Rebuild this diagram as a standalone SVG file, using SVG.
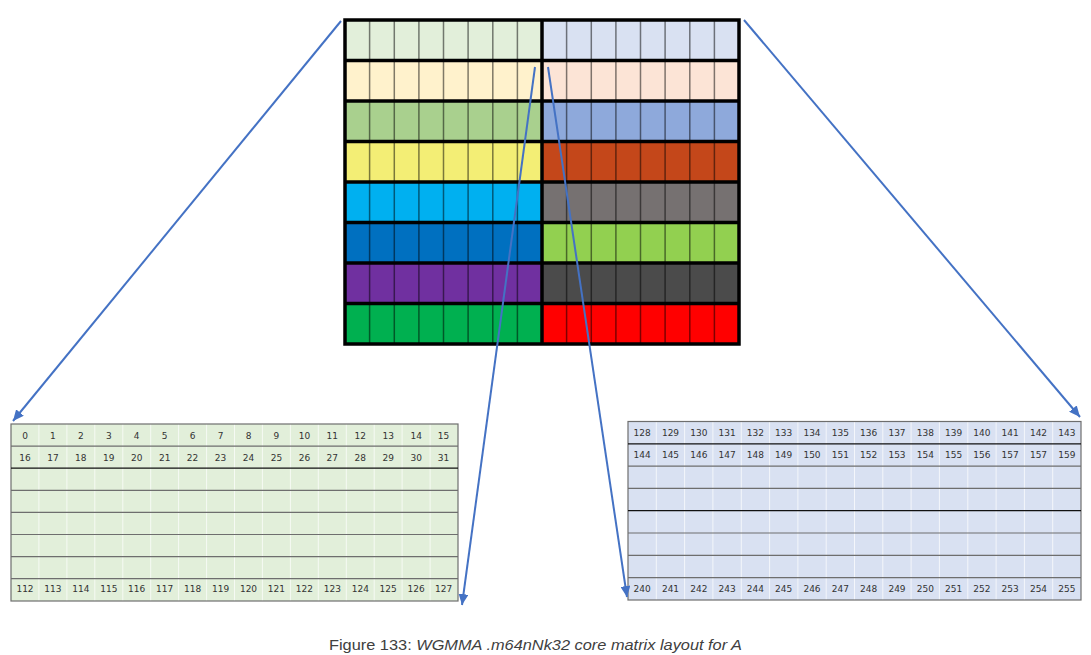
<svg xmlns="http://www.w3.org/2000/svg" width="1091" height="655" viewBox="0 0 1091 655">
<defs>
<style>
.cl{stroke:#000;stroke-opacity:0.5;stroke-width:1.5}
.rl{stroke:#000;stroke-width:3.5}
.tc{stroke:#ffffff;stroke-opacity:0.7;stroke-width:1}
.tg{stroke:#6e6e6e;stroke-width:1.2}
.tb{stroke:#111;stroke-width:1.2}
.n{font-family:"DejaVu Sans",Verdana,sans-serif;font-size:9px;fill:#333;text-anchor:middle}
.cap{font-family:"Liberation Sans",Arial,sans-serif;font-size:15px;fill:#404040}
.ar{stroke:#4472C4;stroke-width:2;fill:none}
</style>
<marker id="ah" markerUnits="userSpaceOnUse" markerWidth="12" markerHeight="10" refX="11" refY="5" orient="auto">
<path d="M0,0 L11,5 L0,10 Z" fill="#4472C4"/>
</marker>
</defs>
<rect width="1091" height="655" fill="#fff"/>

<g id="matrix">
<rect x="345" y="20" width="197" height="40.5" fill="#E2EFDA"/>
<rect x="542" y="20" width="197" height="40.5" fill="#D9E1F2"/>
<rect x="345" y="60.5" width="197" height="40.5" fill="#FFF2CC"/>
<rect x="542" y="60.5" width="197" height="40.5" fill="#FCE4D6"/>
<rect x="345" y="101" width="197" height="40.5" fill="#A9D08E"/>
<rect x="542" y="101" width="197" height="40.5" fill="#8EA9DB"/>
<rect x="345" y="141.5" width="197" height="40.5" fill="#F3EE75"/>
<rect x="542" y="141.5" width="197" height="40.5" fill="#C4471A"/>
<rect x="345" y="182" width="197" height="40.5" fill="#00B0F0"/>
<rect x="542" y="182" width="197" height="40.5" fill="#767171"/>
<rect x="345" y="222.5" width="197" height="40.5" fill="#0070C0"/>
<rect x="542" y="222.5" width="197" height="40.5" fill="#92D050"/>
<rect x="345" y="263" width="197" height="40.5" fill="#7030A0"/>
<rect x="542" y="263" width="197" height="40.5" fill="#4B4B4B"/>
<rect x="345" y="303.5" width="197" height="40.5" fill="#00B050"/>
<rect x="542" y="303.5" width="197" height="40.5" fill="#FF0000"/>
<g class="cl">
<line x1="369.6" y1="20" x2="369.6" y2="344"/>
<line x1="394.3" y1="20" x2="394.3" y2="344"/>
<line x1="418.9" y1="20" x2="418.9" y2="344"/>
<line x1="443.5" y1="20" x2="443.5" y2="344"/>
<line x1="468.1" y1="20" x2="468.1" y2="344"/>
<line x1="492.8" y1="20" x2="492.8" y2="344"/>
<line x1="517.4" y1="20" x2="517.4" y2="344"/>
<line x1="566.6" y1="20" x2="566.6" y2="344"/>
<line x1="591.3" y1="20" x2="591.3" y2="344"/>
<line x1="615.9" y1="20" x2="615.9" y2="344"/>
<line x1="640.5" y1="20" x2="640.5" y2="344"/>
<line x1="665.1" y1="20" x2="665.1" y2="344"/>
<line x1="689.8" y1="20" x2="689.8" y2="344"/>
<line x1="714.4" y1="20" x2="714.4" y2="344"/>
</g>
<g class="rl">
<line x1="345" y1="60.5" x2="739" y2="60.5"/>
<line x1="345" y1="101" x2="739" y2="101"/>
<line x1="345" y1="141.5" x2="739" y2="141.5"/>
<line x1="345" y1="182" x2="739" y2="182"/>
<line x1="345" y1="222.5" x2="739" y2="222.5"/>
<line x1="345" y1="263" x2="739" y2="263"/>
<line x1="345" y1="303.5" x2="739" y2="303.5"/>
<line x1="542" y1="20" x2="542" y2="344"/>
<rect x="345" y="20" width="394" height="324" fill="none"/>
</g>
</g>

<g id="tableA">
<rect x="11" y="424" width="447" height="177" fill="#E2EFDA"/>
<g class="tc">
<line x1="38.9" y1="424" x2="38.9" y2="601"/>
<line x1="66.9" y1="424" x2="66.9" y2="601"/>
<line x1="94.8" y1="424" x2="94.8" y2="601"/>
<line x1="122.8" y1="424" x2="122.8" y2="601"/>
<line x1="150.7" y1="424" x2="150.7" y2="601"/>
<line x1="178.6" y1="424" x2="178.6" y2="601"/>
<line x1="206.6" y1="424" x2="206.6" y2="601"/>
<line x1="234.5" y1="424" x2="234.5" y2="601"/>
<line x1="262.4" y1="424" x2="262.4" y2="601"/>
<line x1="290.4" y1="424" x2="290.4" y2="601"/>
<line x1="318.3" y1="424" x2="318.3" y2="601"/>
<line x1="346.3" y1="424" x2="346.3" y2="601"/>
<line x1="374.2" y1="424" x2="374.2" y2="601"/>
<line x1="402.1" y1="424" x2="402.1" y2="601"/>
<line x1="430.1" y1="424" x2="430.1" y2="601"/>
</g>
<g class="tg">
<line x1="11" y1="446.1" x2="458" y2="446.1"/>
<line x1="11" y1="490.3" x2="458" y2="490.3"/>
<line x1="11" y1="512.4" x2="458" y2="512.4"/>
<line x1="11" y1="534.5" x2="458" y2="534.5"/>
<line x1="11" y1="556.6" x2="458" y2="556.6"/>
<line x1="11" y1="578.7" x2="458" y2="578.7"/>
<rect x="11" y="424" width="447" height="177" fill="none"/>
</g>
<line class="tb" x1="11" y1="468.2" x2="458" y2="468.2"/>
<g class="n">
<text x="25" y="438.8">0</text><text x="52.9" y="438.8">1</text><text x="80.8" y="438.8">2</text><text x="108.8" y="438.8">3</text><text x="136.7" y="438.8">4</text><text x="164.7" y="438.8">5</text><text x="192.6" y="438.8">6</text><text x="220.6" y="438.8">7</text><text x="248.5" y="438.8">8</text><text x="276.4" y="438.8">9</text><text x="304.4" y="438.8">10</text><text x="332.3" y="438.8">11</text><text x="360.3" y="438.8">12</text><text x="388.2" y="438.8">13</text><text x="416.2" y="438.8">14</text><text x="443.6" y="438.8">15</text>
<text x="25" y="460.9">16</text><text x="52.9" y="460.9">17</text><text x="80.8" y="460.9">18</text><text x="108.8" y="460.9">19</text><text x="136.7" y="460.9">20</text><text x="164.7" y="460.9">21</text><text x="192.6" y="460.9">22</text><text x="220.6" y="460.9">23</text><text x="248.5" y="460.9">24</text><text x="276.4" y="460.9">25</text><text x="304.4" y="460.9">26</text><text x="332.3" y="460.9">27</text><text x="360.3" y="460.9">28</text><text x="388.2" y="460.9">29</text><text x="416.2" y="460.9">30</text><text x="443.6" y="460.9">31</text>
<text x="25" y="591.8">112</text><text x="52.9" y="591.8">113</text><text x="80.8" y="591.8">114</text><text x="108.8" y="591.8">115</text><text x="136.7" y="591.8">116</text><text x="164.7" y="591.8">117</text><text x="192.6" y="591.8">118</text><text x="220.6" y="591.8">119</text><text x="248.5" y="591.8">120</text><text x="276.4" y="591.8">121</text><text x="304.4" y="591.8">122</text><text x="332.3" y="591.8">123</text><text x="360.3" y="591.8">124</text><text x="388.2" y="591.8">125</text><text x="416.2" y="591.8">126</text><text x="443.6" y="591.8">127</text>
</g>
</g>

<g id="tableB">
<rect x="628" y="421.5" width="453" height="178.5" fill="#D9E1F2"/>
<g class="tc">
<line x1="656.3" y1="421.5" x2="656.3" y2="600"/>
<line x1="684.6" y1="421.5" x2="684.6" y2="600"/>
<line x1="712.9" y1="421.5" x2="712.9" y2="600"/>
<line x1="741.3" y1="421.5" x2="741.3" y2="600"/>
<line x1="769.6" y1="421.5" x2="769.6" y2="600"/>
<line x1="797.9" y1="421.5" x2="797.9" y2="600"/>
<line x1="826.2" y1="421.5" x2="826.2" y2="600"/>
<line x1="854.5" y1="421.5" x2="854.5" y2="600"/>
<line x1="882.8" y1="421.5" x2="882.8" y2="600"/>
<line x1="911.1" y1="421.5" x2="911.1" y2="600"/>
<line x1="939.4" y1="421.5" x2="939.4" y2="600"/>
<line x1="967.8" y1="421.5" x2="967.8" y2="600"/>
<line x1="996.1" y1="421.5" x2="996.1" y2="600"/>
<line x1="1024.4" y1="421.5" x2="1024.4" y2="600"/>
<line x1="1052.7" y1="421.5" x2="1052.7" y2="600"/>
</g>
<g class="tg">
<line x1="628" y1="466.1" x2="1081" y2="466.1"/>
<line x1="628" y1="488.4" x2="1081" y2="488.4"/>
<line x1="628" y1="533" x2="1081" y2="533"/>
<line x1="628" y1="555.3" x2="1081" y2="555.3"/>
<line x1="628" y1="577.6" x2="1081" y2="577.6"/>
<rect x="628" y="421.5" width="453" height="178.5" fill="none"/>
</g>
<g class="tb">
<line x1="628" y1="443.8" x2="1081" y2="443.8"/>
<line x1="628" y1="510.7" x2="1081" y2="510.7"/>
</g>
<g class="n">
<text x="642.2" y="436">128</text><text x="670.5" y="436">129</text><text x="698.8" y="436">130</text><text x="727.1" y="436">131</text><text x="755.4" y="436">132</text><text x="783.7" y="436">133</text><text x="812" y="436">134</text><text x="840.3" y="436">135</text><text x="868.7" y="436">136</text><text x="897" y="436">137</text><text x="925.3" y="436">138</text><text x="953.6" y="436">139</text><text x="981.9" y="436">140</text><text x="1010.2" y="436">141</text><text x="1038.5" y="436">142</text><text x="1066.8" y="436">143</text>
<text x="642.2" y="458.3">144</text><text x="670.5" y="458.3">145</text><text x="698.8" y="458.3">146</text><text x="727.1" y="458.3">147</text><text x="755.4" y="458.3">148</text><text x="783.7" y="458.3">149</text><text x="812" y="458.3">150</text><text x="840.3" y="458.3">151</text><text x="868.7" y="458.3">152</text><text x="897" y="458.3">153</text><text x="925.3" y="458.3">154</text><text x="953.6" y="458.3">155</text><text x="981.9" y="458.3">156</text><text x="1010.2" y="458.3">157</text><text x="1038.5" y="458.3">157</text><text x="1066.8" y="458.3">159</text>
<text x="642.2" y="592">240</text><text x="670.5" y="592">241</text><text x="698.8" y="592">242</text><text x="727.1" y="592">243</text><text x="755.4" y="592">244</text><text x="783.7" y="592">245</text><text x="812" y="592">246</text><text x="840.3" y="592">247</text><text x="868.7" y="592">248</text><text x="897" y="592">249</text><text x="925.3" y="592">250</text><text x="953.6" y="592">251</text><text x="981.9" y="592">252</text><text x="1010.2" y="592">253</text><text x="1038.5" y="592">254</text><text x="1066.8" y="592">255</text>
</g>
</g>

<g id="connectors" class="ar">
<line x1="341" y1="21" x2="13" y2="421" marker-end="url(#ah)"/>
<line x1="744" y1="20" x2="1080" y2="417" marker-end="url(#ah)"/>
<line x1="535" y1="67" x2="462" y2="605" marker-end="url(#ah)"/>
<line x1="548" y1="67" x2="627" y2="597" marker-end="url(#ah)"/>
</g>

<g id="caption">
<text class="cap" x="329" y="650" textLength="413" lengthAdjust="spacingAndGlyphs">Figure 133: <tspan font-style="italic">WGMMA .m64nNk32 core matrix layout for A</tspan></text>
</g>
</svg>
